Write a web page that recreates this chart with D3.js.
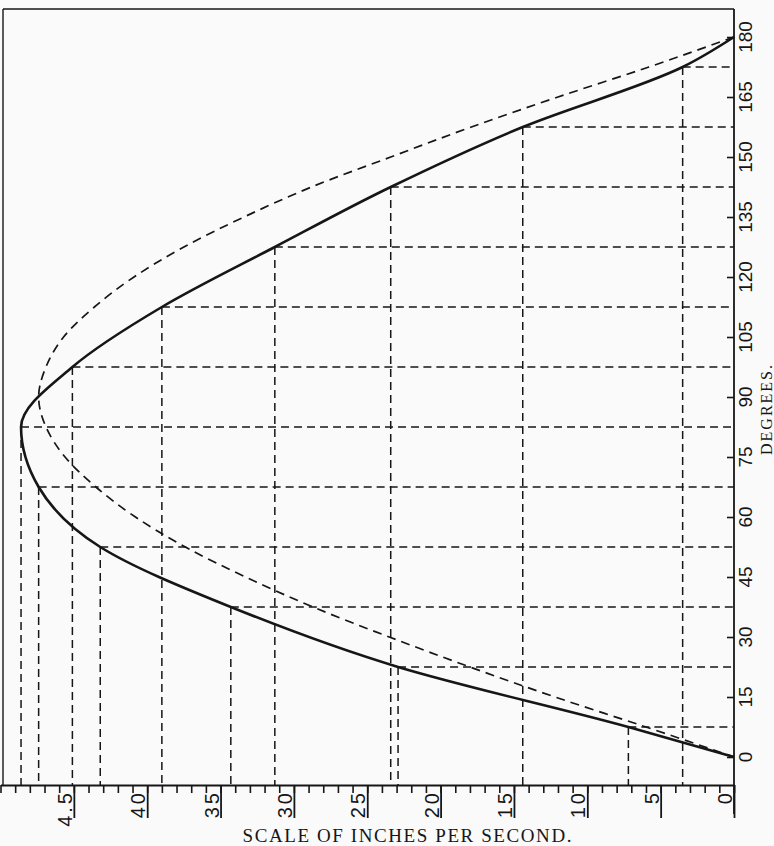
<!DOCTYPE html>
<html>
<head>
<meta charset="utf-8">
<script src="https://cdn.jsdelivr.net/npm/d3@7"></script>
<style>
  html, body { margin: 0; padding: 0; background: #fafafa; }
  svg { display: block; }
</style>
</head>
<body>
<svg id="chart" width="774" height="846"></svg>
<script>
// ---- data ----
// Solid curve: actual piston velocity, points constructed every 15° (offset 7.5°)
const pointDegrees = [0, 7.5, 22.5, 37.5, 52.5, 67.5, 82.5, 97.5, 112.5, 127.5, 142.5, 157.5, 172.5, 180];
const pistonVelocity = [0, 0.72, 2.29, 3.43, 4.32, 4.74, 4.86, 4.51, 3.90, 3.13, 2.34, 1.44, 0.35, 0];

// Dashed curve: crank-pin velocity component
const crankDegrees = [0, 7.5, 15, 22.5, 30, 37.5, 45, 52.5, 60, 67.5, 75, 82.5, 90, 97.5, 105, 112.5, 120, 127.5, 135, 142.5, 150, 157.5, 165, 172.5, 180];
const crankVelocity = [0, 0.60, 1.22, 1.80, 2.35, 2.87, 3.33, 3.74, 4.08, 4.35, 4.56, 4.69, 4.74, 4.69, 4.57, 4.36, 4.09, 3.75, 3.34, 2.88, 2.34, 1.79, 1.20, 0.58, 0];

// Axis ticks and labels
const degreeTicks = [0, 15, 30, 45, 60, 75, 90, 105, 120, 135, 150, 165, 180];
const degreeLabels = ["0", "15", "30", "45", "60", "75", "90", "105", "120", "135", "150", "165", "180"];
const scaleTicks = [0, 0.5, 1.0, 1.5, 2.0, 2.5, 3.0, 3.5, 4.0, 4.5];
const scaleLabels = ["0", "5", "10", "15", "20", "25", "30", "35", "40", "4.5"];
const minorScaleTicks = [0,0.1,0.2,0.3,0.4,0.5,0.6,0.7,0.8,0.9,1.0,1.1,1.2,1.3,1.4,1.5,1.6,1.7,1.8,1.9,2.0,2.1,2.2,2.3,2.4,2.5,2.6,2.7,2.8,2.9,3.0,3.1,3.2,3.3,3.4,3.5,3.6,3.7,3.8,3.9,4.0,4.1,4.2,4.3,4.4,4.5,4.6,4.7,4.8,4.9,5.0];

// ---- layout ----
const svg = d3.select("#chart");
const ink = "#161616";
const frameLeft = 3, frameTop = 9, axisRightX = 734, baselineY = 785;

const x = d3.scaleLinear().domain([0, 5]).range([734, 0.5]);
const y = d3.scaleLinear().domain([0, 180]).range([757, 37]);

// frame
svg.append("line").attr("x1", frameLeft).attr("y1", frameTop).attr("x2", axisRightX).attr("y2", frameTop)
  .attr("stroke", ink).attr("stroke-width", 1.6);
svg.append("line").attr("x1", frameLeft).attr("y1", frameTop).attr("x2", frameLeft).attr("y2", baselineY)
  .attr("stroke", ink).attr("stroke-width", 1.4);
svg.append("line").attr("x1", axisRightX).attr("y1", frameTop).attr("x2", axisRightX).attr("y2", 814)
  .attr("stroke", ink).attr("stroke-width", 1.8);

// guide lines (dashed) for each constructed point
const guides = pointDegrees.map((d, i) => ({ d, v: pistonVelocity[i] })).filter(p => p.v > 0);
const gGuides = svg.append("g").attr("fill", "none").attr("stroke", ink)
  .attr("stroke-width", 1.5).attr("stroke-dasharray", "8,5");
gGuides.selectAll("line.h").data(guides).join("line").attr("class", "h")
  .attr("x1", p => x(p.v)).attr("y1", p => y(p.d))
  .attr("x2", x(0)).attr("y2", p => y(p.d));
gGuides.selectAll("line.v").data(guides).join("line").attr("class", "v")
  .attr("x1", p => x(p.v)).attr("y1", p => y(p.d))
  .attr("x2", p => x(p.v)).attr("y2", baselineY);

// bottom axis: minor ticks + major ticks
const minorAxis = d3.axisBottom(x).tickValues(minorScaleTicks).tickSizeInner(8).tickSizeOuter(0).tickFormat("");
const gMinor = svg.append("g").attr("transform", `translate(0,${baselineY})`).call(minorAxis);
gMinor.select(".domain").attr("stroke", ink).attr("stroke-width", 1.8);
gMinor.selectAll(".tick line").attr("stroke", ink).attr("stroke-width", 1.6);

const majorAxis = d3.axisBottom(x).tickValues(scaleTicks).tickSizeInner(33).tickSizeOuter(0).tickFormat("");
const gMajor = svg.append("g").attr("transform", `translate(0,${baselineY})`).call(majorAxis);
gMajor.select(".domain").remove();
gMajor.selectAll(".tick line").attr("stroke", ink).attr("stroke-width", 1.8);

svg.append("g").selectAll("text").data(scaleTicks).join("text")
  .attr("transform", v => `translate(${x(v) - 2},${baselineY + 5}) rotate(-90)`)
  .attr("text-anchor", "end")
  .attr("font-family", "'Liberation Sans', Arial, sans-serif")
  .attr("font-size", 20)
  .attr("letter-spacing", 3)
  .attr("fill", ink)
  .text((v, i) => scaleLabels[i]);

// right (degree) axis ticks
const degAxis = d3.axisLeft(y).tickValues(degreeTicks).tickSizeInner(7).tickSizeOuter(0).tickFormat("");
const gDeg = svg.append("g").attr("transform", `translate(${axisRightX},0)`).call(degAxis);
gDeg.select(".domain").remove();
gDeg.selectAll(".tick line").attr("stroke", ink).attr("stroke-width", 1.6);

svg.append("g").selectAll("text").data(degreeTicks).join("text")
  .attr("transform", d => `translate(752,${y(d)}) rotate(-90)`)
  .attr("text-anchor", "middle")
  .attr("font-family", "'Liberation Sans', Arial, sans-serif")
  .attr("font-size", 19)
  .attr("fill", ink)
  .text((d, i) => degreeLabels[i]);

// curves
const crankPts = crankDegrees.map((d, i) => ({ d, v: crankVelocity[i] })).reverse();
const pistonPts = pointDegrees.map((d, i) => ({ d, v: pistonVelocity[i] })).reverse();
const line = d3.line().x(p => x(p.v)).y(p => y(p.d)).curve(d3.curveMonotoneY);

svg.append("path").datum(crankPts).attr("d", line)
  .attr("fill", "none").attr("stroke", ink).attr("stroke-width", 1.7)
  .attr("stroke-dasharray", "9,6");
svg.append("path").datum(pistonPts).attr("d", line)
  .attr("fill", "none").attr("stroke", ink).attr("stroke-width", 2.6);

// titles
svg.append("text").attr("x", 407).attr("y", 842)
  .attr("text-anchor", "middle")
  .attr("font-family", "'Liberation Serif', 'Times New Roman', serif")
  .attr("font-size", 19)
  .attr("textLength", 329).attr("lengthAdjust", "spacing")
  .attr("fill", ink)
  .text("SCALE OF INCHES PER SECOND.");

svg.append("text")
  .attr("transform", "translate(772,410) rotate(-90)")
  .attr("text-anchor", "middle")
  .attr("font-family", "'Liberation Serif', 'Times New Roman', serif")
  .attr("font-size", 16)
  .attr("textLength", 90).attr("lengthAdjust", "spacing")
  .attr("fill", ink)
  .text("DEGREES.");
</script>
</body>
</html>
